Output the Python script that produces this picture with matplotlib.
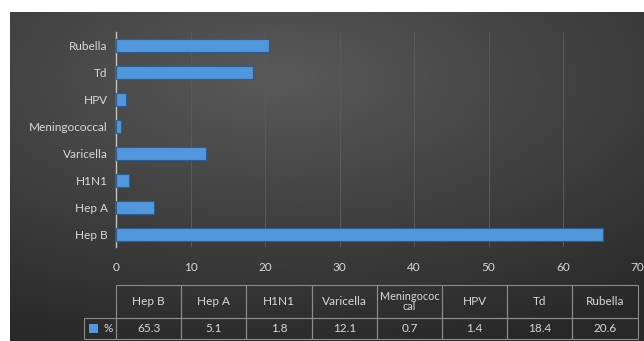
import numpy as np
import matplotlib.pyplot as plt
from matplotlib.patches import Rectangle

# Data
vaccines = ['Hep B', 'Hep A', 'H1N1', 'Varicella', 'Meningococcal', 'HPV', 'Td', 'Rubella']
table_labels = ['Hep B', 'Hep A', 'H1N1', 'Varicella', 'Meningococ\ncal', 'HPV', 'Td', 'Rubella']
percent = [65.3, 5.1, 1.8, 12.1, 0.7, 1.4, 18.4, 20.6]

plt.rcParams['font.family'] = ['Lato', 'DejaVu Sans']
txt_col = '#d8d8d8'
bar_col = '#5097dd'
line_col = '#8c8c8c'
W, H = 644, 341

fig = plt.figure(figsize=(W / 100, H / 100), dpi=100)
fig.patch.set_facecolor('white')

# dark gradient background panel
bg = fig.add_axes([10 / W, 0, 1 - 10 / W, 1 - 12 / H], zorder=0)
yy, xx = np.mgrid[0:1:200j, 0:1:400j]
d = np.sqrt(((xx - 0.42) / 1.0) ** 2 + ((yy - 0.2) / 0.9) ** 2)
shade = np.clip(0.35 - 0.2 * d, 0.16, 0.36)
bg.imshow(np.dstack([shade] * 3), aspect='auto', extent=[0, 1, 0, 1], origin='upper')
bg.set_axis_off()

ax = fig.add_axes([116 / W, 1 - 247 / H, (637.6 - 116) / W, (247 - 32) / H], zorder=1)
ax.patch.set_alpha(0)
y = np.arange(len(vaccines))
ax.barh(y, percent, height=0.48, color=bar_col, edgecolor='#2d5d8f', linewidth=0.8, zorder=3)
ax.set_xlim(0, 70)
ax.set_ylim(-0.45, 7.48)
ax.set_xticks(range(0, 71, 10))
ax.set_yticks(y)
ax.set_yticklabels(vaccines)
ax.tick_params(colors=txt_col, length=0, labelsize=8.5)
ax.tick_params(axis='x', pad=11)
ax.tick_params(axis='y', pad=6)
ax.grid(axis='x', color='#5a5a5a', linewidth=0.7, zorder=1)
for s in ['top', 'right', 'bottom']:
    ax.spines[s].set_visible(False)
ax.spines['left'].set_color('#c4c4c4')
ax.spines['left'].set_linewidth(1.0)

# data table under the axis, drawn in axes coordinates
n = len(percent)
cw = 1.0 / n
hdr_top = (247 - 285) / 215
hdr_bot = (247 - 318) / 215
dat_bot = (247 - 339) / 215
key_left = (84 - 116) / 521.6
kw = dict(transform=ax.transAxes, clip_on=False)
for i in range(n):
    ax.add_patch(Rectangle((i * cw, hdr_bot), cw, hdr_top - hdr_bot, fill=False,
                           edgecolor=line_col, linewidth=0.8, **kw))
    ax.add_patch(Rectangle((i * cw, dat_bot), cw, hdr_bot - dat_bot, fill=False,
                           edgecolor=line_col, linewidth=0.8, **kw))
    fs = 7.8 if '\n' in table_labels[i] else 8.5
    ax.text((i + 0.5) * cw, (hdr_top + hdr_bot) / 2, table_labels[i], ha='center', va='center',
            color=txt_col, fontsize=fs, linespacing=1.0, **kw)
    ax.text((i + 0.5) * cw, (hdr_bot + dat_bot) / 2, f'{percent[i]:.1f}', ha='center',
            va='center', color=txt_col, fontsize=8.5, **kw)
ax.add_patch(Rectangle((key_left, dat_bot), -key_left, hdr_bot - dat_bot, fill=False,
                       edgecolor=line_col, linewidth=0.8, **kw))
ax.add_patch(Rectangle((key_left + 5 / 521.6, dat_bot + 6 / 215), 9 / 521.6, 9 / 215,
                       facecolor=bar_col, edgecolor='none', **kw))
ax.text(-3 / 521.6, (hdr_bot + dat_bot) / 2, '%', ha='right', va='center', color=txt_col,
        fontsize=8.5, **kw)

fig.savefig('out.png', dpi=100)
